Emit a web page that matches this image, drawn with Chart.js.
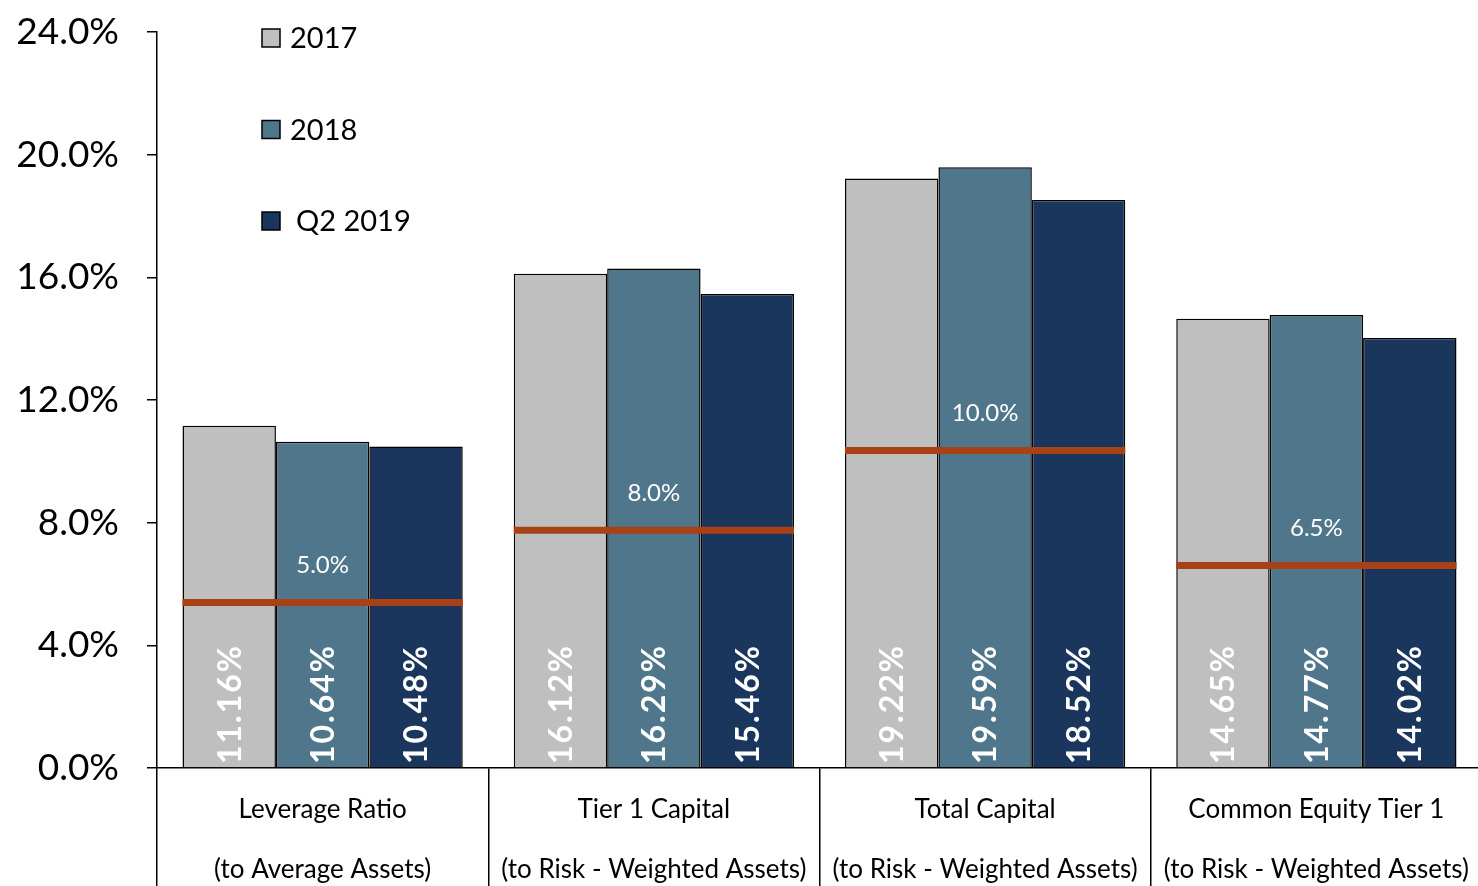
<!DOCTYPE html>
<html>
<head>
<meta charset="utf-8">
<script src="https://cdn.jsdelivr.net/npm/chart.js@4/dist/chart.umd.min.js"></script>
<style>
  html, body { margin: 0; padding: 0; background: #fff; overflow: hidden; }
  #wrap { width: 1482px; height: 886px; }
</style>
</head>
<body>
<div id="wrap"><canvas id="capChart"></canvas></div>
<script>
const categories = [
  ['Leverage Ratio', '(to Average Assets)'],
  ['Tier 1 Capital', '(to Risk - Weighted Assets)'],
  ['Total Capital', '(to Risk - Weighted Assets)'],
  ['Common Equity Tier 1', '(to Risk - Weighted Assets)']
];
const seriesNames = ['2017', '2018', 'Q2 2019'];
const values2017 = [11.16, 16.12, 19.22, 14.65];
const values2018 = [10.64, 16.29, 19.59, 14.77];
const valuesQ22019 = [10.48, 15.46, 18.52, 14.02];
// well-capitalized minimums, drawn where they sit in the picture
const minLevels = [5.4, 7.75, 10.35, 6.6];
const minLabels = ['5.0%', '8.0%', '10.0%', '6.5%'];
const yTicks = [0, 4, 8, 12, 16, 20, 24];

const colors = ['#BFBFBF', '#4F768B', '#1B365D'];
const FONT = 'Lato, "Open Sans", sans-serif';

const valueLabels = {
  id: 'valueLabels',
  afterDatasetsDraw(chart) {
    const { ctx, chartArea } = chart;
    ctx.save();
    ctx.beginPath();
    ctx.rect(chartArea.left, chartArea.top, chartArea.right - chartArea.left, chartArea.bottom - chartArea.top);
    ctx.clip();
    ctx.fillStyle = '#fff';
    ctx.font = 'bold 32px ' + FONT;
    ctx.letterSpacing = '2px';
    ctx.textAlign = 'left';
    ctx.textBaseline = 'middle';
    chart.data.datasets.forEach((ds, di) => {
      chart.getDatasetMeta(di).data.forEach((bar, i) => {
        ctx.save();
        ctx.translate(bar.x, chartArea.bottom - 4);
        ctx.rotate(-Math.PI / 2);
        ctx.fillText(ds.data[i].toFixed(2) + '%', 0, 1);
        ctx.restore();
      });
    });
    ctx.restore();

    // minimum lines
    const y = chart.scales.y;
    const first = chart.getDatasetMeta(0).data;
    const last = chart.getDatasetMeta(2).data;
    ctx.save();
    ctx.strokeStyle = '#A84216';
    ctx.lineWidth = 7;
    ctx.fillStyle = '#fff';
    ctx.font = '24px ' + FONT;
    ctx.textAlign = 'center';
    ctx.textBaseline = 'middle';
    minLevels.forEach((v, i) => {
      const py = y.getPixelForValue(v);
      const x0 = first[i].x - first[i].width / 2;
      const x1 = last[i].x + last[i].width / 2;
      ctx.beginPath();
      ctx.moveTo(x0, py);
      ctx.lineTo(x1, py);
      ctx.stroke();
      ctx.fillText(minLabels[i], (x0 + x1) / 2, py - 37);
    });
    ctx.restore();

    // legend
    ctx.save();
    ctx.font = '29px ' + FONT;
    ctx.textBaseline = 'middle';
    ctx.fillStyle = '#000';
    seriesNames.forEach((name, i) => {
      const bx = chartArea.left + 105;
      const cy = chartArea.top + 6 + i * 91.5;
      ctx.fillStyle = colors[i];
      ctx.fillRect(bx, cy - 9, 18, 18);
      ctx.strokeStyle = '#000';
      ctx.lineWidth = 1.5;
      ctx.strokeRect(bx, cy - 9, 18, 18);
      ctx.fillStyle = '#000';
      ctx.fillText(name, bx + 28 + (i === 2 ? 6 : 0), cy + 1);
    });
    ctx.restore();
  }
};

const mkSet = (label, data, i) => ({
  label, data,
  backgroundColor: colors[i],
  borderColor: '#000',
  borderWidth: 1.5,
  borderSkipped: 'bottom'
});

new Chart(document.getElementById('capChart'), {
  type: 'bar',
  data: {
    labels: categories,
    datasets: [
      mkSet(seriesNames[0], values2017, 0),
      mkSet(seriesNames[1], values2018, 1),
      mkSet(seriesNames[2], valuesQ22019, 2)
    ]
  },
  options: {
    responsive: true,
    maintainAspectRatio: false,
    animation: false,
    layout: { padding: { top: 32, right: 0, left: 0, bottom: 0 } },
    categoryPercentage: 0.846,
    barPercentage: 1,
    plugins: { legend: { display: false }, tooltip: { enabled: false } },
    scales: {
      x: {
        grid: {
          offset: true,
          drawOnChartArea: false,
          color: '#000',
          lineWidth: 1.5,
          tickLength: 118
        },
        border: { color: '#000', width: 1.5 },
        ticks: {
          color: '#000',
          font: { family: FONT, size: 26, lineHeight: 2.3 },
          padding: -106,
          maxRotation: 0,
          autoSkip: false
        },
        afterFit(scale) { scale.height = 118; }
      },
      y: {
        min: 0,
        max: 24,
        afterBuildTicks(scale) { scale.ticks = yTicks.map(v => ({ value: v })); },
        grid: {
          drawOnChartArea: false,
          color: '#000',
          lineWidth: 1.5,
          tickLength: 10
        },
        border: { color: '#000', width: 1.5 },
        ticks: {
          color: '#000',
          font: { family: FONT, size: 37 },
          padding: 28,
          callback: v => v.toFixed(1) + '%'
        },
        afterFit(scale) {
          scale.width = 157;
          scale.paddingTop = 0;
          scale.paddingBottom = 0;
        }
      }
    }
  },
  plugins: [valueLabels]
});
</script>
</body>
</html>
